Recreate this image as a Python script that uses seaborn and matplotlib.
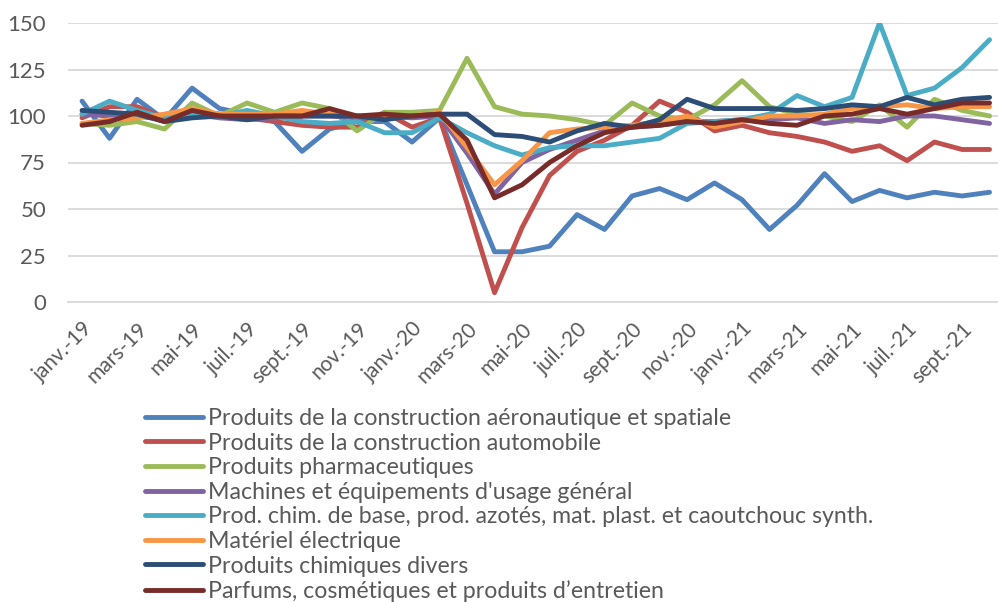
import numpy as np
import pandas as pd
import seaborn as sns
import matplotlib.pyplot as plt
from matplotlib.ticker import MultipleLocator, FixedLocator

# mois (janv.-19 -> oct.-21)
noms_mois = ['janv.', 'févr.', 'mars', 'avr.', 'mai', 'juin',
             'juil.', 'août', 'sept.', 'oct.', 'nov.', 'déc.']
mois = [f'{m}-{a}' for a in ['19', '20', '21'] for m in noms_mois][:34]

series = [
    'Produits de la construction aéronautique et spatiale',
    'Produits de la construction automobile',
    'Produits pharmaceutiques',
    "Machines et équipements d'usage général",
    'Prod. chim. de base, prod. azotés, mat. plast. et caoutchouc synth.',
    'Matériel électrique',
    'Produits chimiques divers',
    'Parfums, cosmétiques et produits d’entretien',
]

aero = [108, 88, 109, 98, 115, 104, 101, 97, 81, 93, 97, 97, 86, 99, 63, 27, 27,
        30, 47, 39, 57, 61, 55, 64, 55, 39, 52, 69, 54, 60, 56, 59, 57, 59]
auto = [99, 105, 105, 99, 103, 101, 99, 97, 95, 94, 94, 102, 94, 99, 53, 5, 40,
        68, 81, 87, 95, 108, 102, 92, 95, 91, 89, 86, 81, 84, 76, 86, 82, 82]
pharma = [96, 95, 97, 93, 107, 100, 107, 102, 107, 104, 92, 102, 102, 103, 131, 105, 101,
          100, 98, 95, 107, 100, 98, 106, 119, 105, 101, 100, 97, 106, 94, 109, 103, 100]
machines = [101, 100, 100, 98, 101, 99, 98, 99, 100, 100, 99, 100, 99, 100, 80, 58, 75,
            82, 87, 92, 94, 95, 97, 97, 98, 98, 99, 96, 98, 97, 100, 100, 98, 96]
chim_base = [101, 108, 103, 99, 101, 100, 103, 100, 97, 96, 97, 91, 91, 99, 91, 84, 79,
             83, 84, 84, 86, 88, 96, 97, 98, 101, 111, 105, 110, 150, 111, 115, 126, 141]
electrique = [96, 98, 99, 101, 104, 101, 101, 101, 103, 101, 100, 100, 100, 102, 83, 63, 76,
              91, 93, 94, 95, 97, 100, 94, 97, 100, 100, 101, 104, 105, 106, 104, 105, 105]
chim_divers = [103, 102, 101, 97, 99, 100, 98, 100, 100, 100, 100, 98, 100, 101, 101, 90, 89,
               86, 92, 96, 94, 98, 109, 104, 104, 104, 103, 104, 106, 105, 110, 106, 109, 110]
parfums = [95, 97, 102, 97, 103, 100, 100, 100, 100, 104, 100, 101, 100, 101, 87, 56, 63,
           75, 84, 91, 94, 95, 97, 96, 98, 96, 95, 100, 101, 104, 101, 104, 107, 107]

couleurs = ['#4F81BD', '#C0504D', '#9BBB59', '#8064A2',
            '#4BACC6', '#F79646', '#2C4D75', '#772C2A']

valeurs = [aero, auto, pharma, machines, chim_base, electrique, chim_divers, parfums]
df = pd.concat([pd.DataFrame({'mois': np.arange(len(mois)), 'indice': v, 'serie': s})
                for s, v in zip(series, valeurs)], ignore_index=True)

sns.set_style('white')
plt.rcParams['font.family'] = ['Lato', 'DejaVu Sans']
gris = '#595959'

fig = plt.figure(figsize=(9.98, 6.02), dpi=100)
ax = fig.add_axes([68.3 / 998, 1 - 302 / 602, 935 / 998, 279 / 602])

sns.lineplot(data=df, x='mois', y='indice', hue='serie', hue_order=series,
             palette=couleurs, linewidth=3.5, sort=False, ax=ax,
             solid_joinstyle='round', solid_capstyle='round')

ax.set_xlim(-0.5, len(mois) - 0.5)
ax.set_ylim(0, 150)
ax.yaxis.set_major_locator(MultipleLocator(25))
ax.grid(axis='y', color='#D9D9D9', linewidth=1.3)
ax.grid(axis='x', visible=False)
for s in ['top', 'right', 'left']:
    ax.spines[s].set_visible(False)
ax.spines['bottom'].set_color('#D9D9D9')
ax.spines['bottom'].set_linewidth(1.3)

pos = np.arange(0, len(mois), 2)
ax.set_xticks(pos)
ax.set_xticklabels([mois[i] for i in pos], rotation=45, ha='right',
                   rotation_mode='anchor', color=gris, fontsize=15)
ax.xaxis.set_minor_locator(FixedLocator(np.arange(-0.5, len(mois), 2)))
ax.tick_params(axis='x', which='major', length=0, pad=12)
ax.tick_params(axis='x', which='minor', length=7, color='#D9D9D9', width=1.3)
ax.tick_params(axis='y', length=0, pad=16, labelcolor=gris, labelsize=16)
ax.set_xlabel('')
ax.set_ylabel('')

h, l = ax.get_legend_handles_labels()
ax.legend(h, l, loc='upper left', bbox_to_anchor=(145 / 998, 1 - 408 / 602),
          bbox_transform=fig.transFigure, frameon=False, fontsize=16.7,
          handlelength=2.5, handletextpad=0.2, labelspacing=0.155,
          borderpad=0, borderaxespad=0, labelcolor=gris)

fig.savefig('out.png', dpi=100)
